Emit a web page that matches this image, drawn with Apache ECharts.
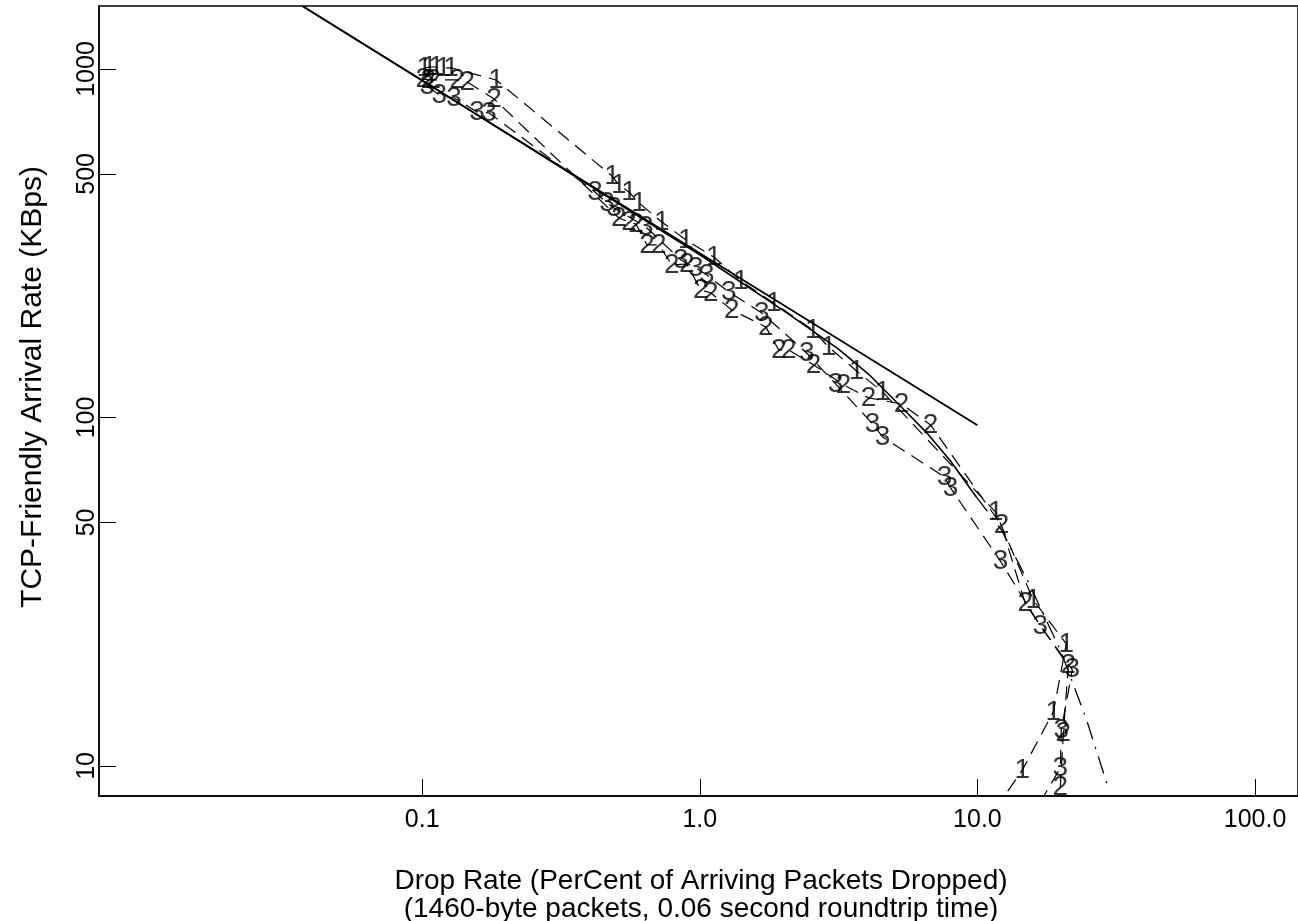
<!DOCTYPE html>
<html>
<head>
<meta charset="utf-8">
<script src="https://cdn.jsdelivr.net/npm/echarts@6/dist/echarts.min.js"></script>
<style>
html, body { margin: 0; padding: 0; background: #fff; }
#chart { width: 1298px; height: 921px; }
</style>
</head>
<body>
<div id="chart"></div>
<script>
// axis ticks
const xTicks = [0.1, 1, 10, 100]
const xTickLabels = ['0.1', '1.0', '10.0', '100.0']
const yTicks = [10, 50, 100, 500, 1000]

// model curves
const simpleX = [0.037, 0.1, 1.0, 10.0]
const simpleY = [1516, 927, 296, 95]
const fullX = [0.037, 0.1, 1.0, 2.09, 3.16, 4.06, 5.33, 6.6, 8.0, 9.92]
const fullY = [1516, 927, 293, 198, 157, 133, 107, 90, 75, 59]
const tailX = [9.92, 12.2, 15.3, 19.9, 24.7, 29.6]
const tailY = [59.1, 47.6, 33.5, 21.5, 13.6, 8.65]

// measured runs, labelled 1 / 2 / 3
const run1X = [0.1017, 0.106, 0.1123, 0.119, 0.1271, 0.1845, 0.4828, 0.511, 0.5555, 0.6035, 0.730, 0.8906,
    1.123, 1.404, 1.846, 2.55, 2.911, 3.67, 4.553, 11.61, 15.9, 20.9, 18.77, 14.52, 11.9]
const run1Y = [1007, 1013, 1013, 1007, 1007, 930, 493, 464.6, 443.6, 412.6, 363.9, 323.1,
    288.7, 246.4, 213.1, 178.3, 159.3, 135.9, 118.4, 53.6, 29.9, 22.4, 14.3, 9.74, 7.73]

const run2X = [0.1008, 0.1051, 0.1095, 0.1336, 0.1452, 0.1816, 0.511, 0.5555, 0.5886, 0.6448, 0.7119, 0.7931,
    0.8979, 1.008, 1.095, 1.304, 1.728, 1.924, 2.09, 2.57, 3.296, 4.055, 5.33, 6.776, 12.2, 14.88, 21.25, 20.39, 19.89]
const run2Y = [936, 930, 930, 930, 918, 820, 373.6, 363.9, 359, 312.6, 312.6, 273.9,
    275.7, 232.2, 227.6, 203.5, 181.9, 156.2, 156.2, 141.5, 124, 113.8, 109.3, 95.2, 49.1, 29.2, 19.4, 12.4, 8.71]

const run3X = [0.1042, 0.1151, 0.1303, 0.1577, 0.1742, 0.419, 0.4629, 0.4904, 0.6393, 0.8546, 0.9674, 1.06,
    1.271, 1.671, 2.426, 3.085, 4.193, 4.553, 7.61, 8.0, 12.1, 16.85, 21.97, 20.05, 19.89, 16.6]
const run3Y = [894, 842, 825.5, 753, 748, 443.6, 412.6, 399.1, 352, 283.1, 268.5, 256.4,
    229.2, 199.5, 153.1, 124.8, 95.8, 87.9, 67.5, 62.8, 38.7, 25.2, 18.9, 12.7, 9.87, 7.73]

const font = "'Liberation Sans', Arial, Helvetica, sans-serif"

const myChart = echarts.init(document.getElementById('chart'))

const pairs = (xs, ys) => xs.map((x, i) => [x, ys[i]])

const lineSeries = (xs, ys, dash, width) => ({
    type: 'line',
    data: pairs(xs, ys),
    showSymbol: false,
    symbol: 'none',
    lineStyle: { color: '#000', width: width, type: dash },
    animation: false,
    silent: true
})

const labelSeries = (xs, ys, mark) => ({
    type: 'scatter',
    data: pairs(xs, ys),
    symbolSize: 1,
    itemStyle: { color: 'rgba(0,0,0,0)' },
    label: {
        show: true,
        position: 'inside',
        formatter: mark,
        fontSize: 28,
        fontFamily: font,
        color: '#000'
    },
    animation: false,
    silent: true
})

const option = {
    backgroundColor: '#fff',
    animation: false,
    grid: {
        left: 99,
        right: -3,
        top: 6,
        bottom: 125,
        show: true,
        borderColor: '#000',
        borderWidth: 1.5
    },
    xAxis: {
        type: 'log',
        logBase: 10,
        min: 0.00685,
        max: 142.8,
        splitLine: { show: false },
        axisLine: { show: true, lineStyle: { color: '#000', width: 1.5 } },
        axisTick: { show: true, inside: true, length: 17, customValues: xTicks, lineStyle: { color: '#000', width: 1 } },
        axisLabel: {
            customValues: xTicks,
            margin: 12,
            fontSize: 25,
            fontFamily: font,
            color: '#000',
            formatter: v => {
                const i = xTicks.findIndex(t => Math.abs(Math.log10(t) - Math.log10(v)) < 1e-6)
                return i >= 0 ? xTickLabels[i] : ''
            }
        }
    },
    yAxis: {
        type: 'log',
        logBase: 10,
        min: 8.2,
        max: 1516,
        splitLine: { show: false },
        axisLine: { show: true, lineStyle: { color: '#000', width: 1.5 } },
        axisTick: { show: true, inside: true, length: 17, customValues: yTicks, lineStyle: { color: '#000', width: 1 } },
        axisLabel: {
            customValues: yTicks,
            rotate: 90,
            margin: -1,
            fontSize: 25,
            fontFamily: font,
            color: '#000',
            formatter: v => String(Math.round(v))
        }
    },
    graphic: [
        {
            type: 'text',
            x: 701,
            y: 895,
            style: {
                text: 'Drop Rate (PerCent of Arriving Packets Dropped)\n(1460-byte packets, 0.06 second roundtrip time)',
                font: '28px ' + font,
                lineHeight: 28,
                fill: '#000',
                align: 'center',
                verticalAlign: 'middle'
            }
        },
        {
            type: 'text',
            x: 33,
            y: 387,
            rotation: Math.PI / 2,
            style: {
                text: 'TCP-Friendly Arrival Rate (KBps)',
                font: '30px ' + font,
                fill: '#000',
                align: 'center',
                verticalAlign: 'middle'
            }
        }
    ],
    series: [
        lineSeries(simpleX, simpleY, 'solid', 1.8),
        lineSeries(fullX, fullY, 'solid', 1.6),
        lineSeries(tailX, tailY, [18, 8, 2, 8], 1.3),
        lineSeries(run1X, run1Y, [14, 8], 1.2),
        lineSeries(run2X, run2Y, [14, 8], 1.2),
        lineSeries(run3X, run3Y, [14, 8], 1.2),
        labelSeries(run1X, run1Y, '1'),
        labelSeries(run2X, run2Y, '2'),
        labelSeries(run3X, run3Y, '3')
    ]
}

myChart.setOption(option)
</script>
</body>
</html>
